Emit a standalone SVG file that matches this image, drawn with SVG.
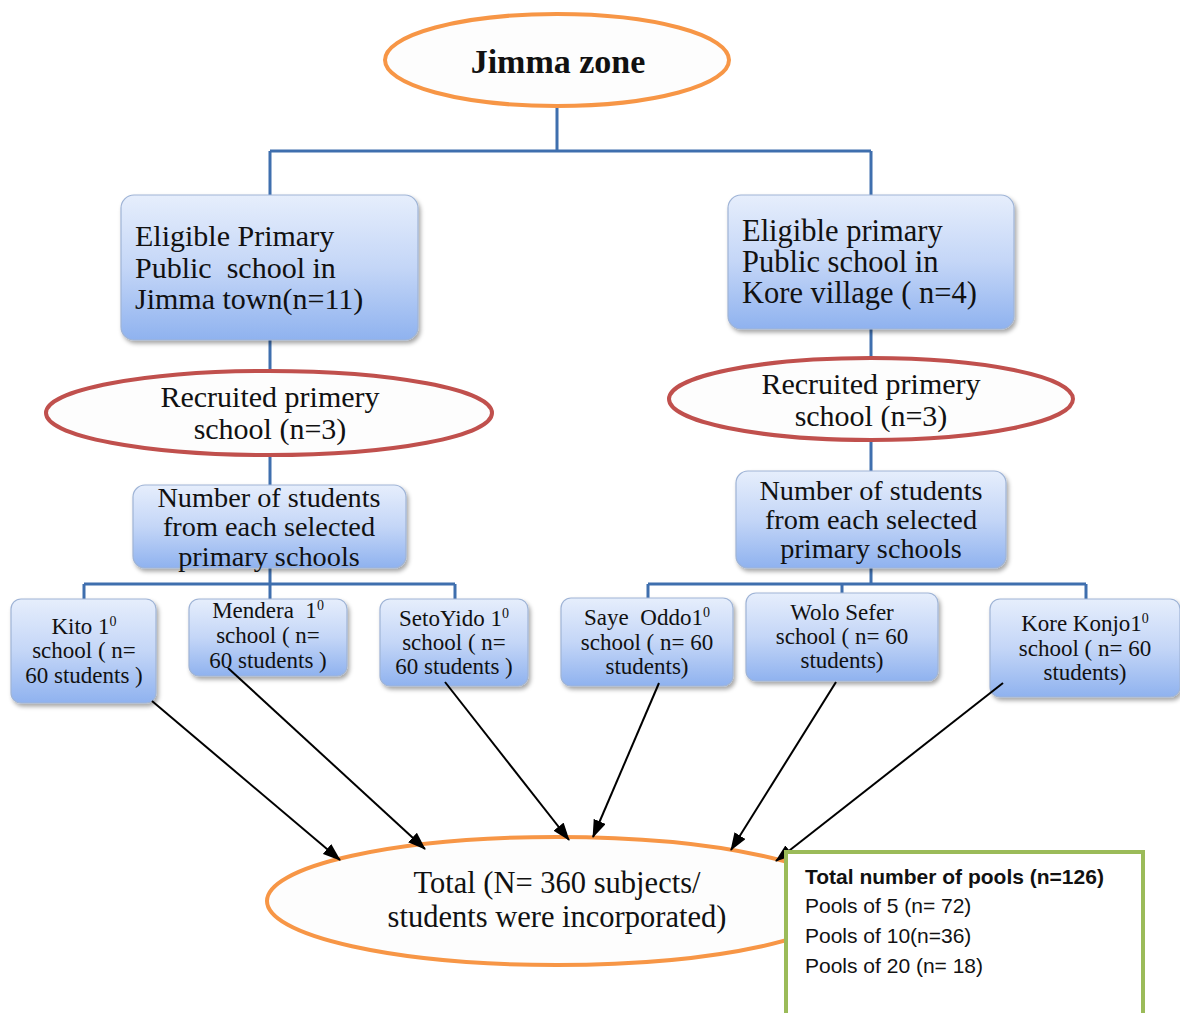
<svg xmlns="http://www.w3.org/2000/svg" width="1180" height="1013" viewBox="0 0 1180 1013">
<defs>
<linearGradient id="bg" x1="0" y1="0" x2="0" y2="1">
<stop offset="0" stop-color="#e6eefc"/>
<stop offset="0.5" stop-color="#c4d6f7"/>
<stop offset="1" stop-color="#8fb2ef"/>
</linearGradient>
<filter id="sh" x="-10%" y="-10%" width="125%" height="130%">
<feDropShadow dx="2" dy="3" stdDeviation="2" flood-color="#000" flood-opacity="0.35"/>
</filter>
<marker id="ah" markerUnits="userSpaceOnUse" markerWidth="18" markerHeight="13" viewBox="0 0 18 13" refX="17" refY="6.5" orient="auto">
<path d="M0,0 L18,6.5 L0,13 z" fill="#000"/>
</marker>
</defs>
<style>
.box{fill:url(#bg);stroke:#9fb4d6;stroke-width:1.2;filter:url(#sh)}
.ell{fill:#fdfdfd;stroke-width:4}
.or{stroke:#f79646}
.rd{stroke:#c0504d}
.conn{fill:none;stroke:#3f6fae;stroke-width:3}
.arr{stroke:#000;stroke-width:2;marker-end:url(#ah)}
.t{font-family:"Liberation Serif","Times New Roman",serif;fill:#111}
.c{text-anchor:middle}
.s{font-size:23px}
.g{font-family:"Liberation Sans",Arial,sans-serif;font-size:21px;fill:#111}
</style>
<rect width="1180" height="1013" fill="#fff"/>
<g id="connectors">
<path class="conn" d="M557,107 V151 M270,151 H871 M270,151 V195 M871,151 V195"/>
<path class="conn" d="M270,340 V371 M871,329 V358"/>
<path class="conn" d="M270,456 V485 M871,440 V471"/>
<path class="conn" d="M270,568 V584 M84,584 H455 M84,584 V599 M270,584 V599 M455,584 V599"/>
<path class="conn" d="M871,568 V584 M648,584 H1086 M648,584 V598 M842,584 V593 M1086,584 V599"/>
</g>
<g id="jimma-zone">
<ellipse class="ell or" cx="557" cy="60" rx="172" ry="46"/>
<text class="t c" x="558" y="73" font-size="34" font-weight="bold">Jimma zone</text>
</g>
<g id="jimma-town">
<rect class="box" x="121" y="195" width="297" height="145" rx="13"/>
<text class="t" font-size="30"><tspan x="135" y="246">Eligible Primary</tspan><tspan x="135" y="278">Public&#160; school in</tspan><tspan x="135" y="309">Jimma town(n=11)</tspan></text>
</g>
<g id="kore-village">
<rect class="box" x="728" y="195" width="286" height="134" rx="13"/>
<text class="t" font-size="30.5"><tspan x="742" y="241">Eligible primary</tspan><tspan x="742" y="272">Public school in</tspan><tspan x="742" y="303">Kore village ( n=4)</tspan></text>
</g>
<g id="recruited-left">
<ellipse class="ell rd" cx="269" cy="413" rx="223" ry="42"/>
<text class="t c" font-size="30"><tspan x="270" y="407">Recruited primery</tspan><tspan x="270" y="439">school (n=3)</tspan></text>
</g>
<g id="recruited-right">
<ellipse class="ell rd" cx="871" cy="399" rx="202" ry="41"/>
<text class="t c" font-size="30"><tspan x="871" y="394">Recruited primery</tspan><tspan x="871" y="426">school (n=3)</tspan></text>
</g>
<g id="number-left">
<rect class="box" x="133" y="485" width="273" height="83" rx="12"/>
<text class="t c" font-size="28.3"><tspan x="269" y="507">Number of students</tspan><tspan x="269" y="536">from each selected</tspan><tspan x="269" y="566">primary schools</tspan></text>
</g>
<g id="number-right">
<rect class="box" x="736" y="471" width="270" height="97" rx="12"/>
<text class="t c" font-size="28.3"><tspan x="871" y="500">Number of students</tspan><tspan x="871" y="529">from each selected</tspan><tspan x="871" y="558">primary schools</tspan></text>
</g>
<g id="kito">
<rect class="box" x="11" y="599" width="145" height="104" rx="10"/>
<text class="t c s"><tspan x="84" y="634">Kito 1<tspan font-size="14" dy="-8">0</tspan></tspan><tspan x="84" y="658">school ( n=</tspan><tspan x="84" y="683">60 students )</tspan></text>
</g>
<g id="mendera">
<rect class="box" x="189" y="599" width="158" height="77" rx="10"/>
<text class="t c s"><tspan x="268" y="618">Mendera&#160; 1<tspan font-size="14" dy="-8">0</tspan></tspan><tspan x="268" y="643">school ( n=</tspan><tspan x="268" y="668">60 students )</tspan></text>
</g>
<g id="setoyido">
<rect class="box" x="380" y="599" width="148" height="87" rx="10"/>
<text class="t c s"><tspan x="454" y="626">SetoYido 1<tspan font-size="14" dy="-8">0</tspan></tspan><tspan x="454" y="650">school ( n=</tspan><tspan x="454" y="674">60 students )</tspan></text>
</g>
<g id="saye-oddo">
<rect class="box" x="561" y="598" width="172" height="88" rx="10"/>
<text class="t c s"><tspan x="647" y="625">Saye&#160; Oddo1<tspan font-size="14" dy="-8">0</tspan></tspan><tspan x="647" y="650">school ( n= 60</tspan><tspan x="647" y="674">students)</tspan></text>
</g>
<g id="wolo-sefer">
<rect class="box" x="746" y="593" width="192" height="88" rx="10"/>
<text class="t c s"><tspan x="842" y="620">Wolo Sefer</tspan><tspan x="842" y="644">school ( n= 60</tspan><tspan x="842" y="668">students)</tspan></text>
</g>
<g id="kore-konjo">
<rect class="box" x="990" y="599" width="190" height="98" rx="10"/>
<text class="t c s"><tspan x="1085" y="631">Kore Konjo1<tspan font-size="14" dy="-8">0</tspan></tspan><tspan x="1085" y="656">school ( n= 60</tspan><tspan x="1085" y="680">students)</tspan></text>
</g>
<g id="total">
<ellipse class="ell or" cx="557" cy="901" rx="290" ry="64"/>
<text class="t c" font-size="30.5"><tspan x="557" y="893">Total (N= 360 subjects/</tspan><tspan x="557" y="927">students were incorporated)</tspan></text>
</g>
<g id="arrows">
<line class="arr" x1="152" y1="701" x2="340" y2="860"/>
<line class="arr" x1="228" y1="668" x2="425" y2="849"/>
<line class="arr" x1="445" y1="682" x2="569" y2="840"/>
<line class="arr" x1="659" y1="683" x2="593" y2="837"/>
<line class="arr" x1="836" y1="682" x2="731" y2="850"/>
<line class="arr" x1="1003" y1="683" x2="776" y2="861"/>
</g>
<g id="pools">
<rect x="786" y="852" width="357" height="170" fill="#fff" stroke="#9bbb59" stroke-width="4"/>
<text class="g" x="805" y="884" font-weight="bold">Total number of pools (n=126)</text>
<text class="g" x="805" y="913">Pools of 5 (n= 72)</text>
<text class="g" x="805" y="943">Pools of 10(n=36)</text>
<text class="g" x="805" y="973">Pools of 20 (n= 18)</text>
</g>
</svg>
